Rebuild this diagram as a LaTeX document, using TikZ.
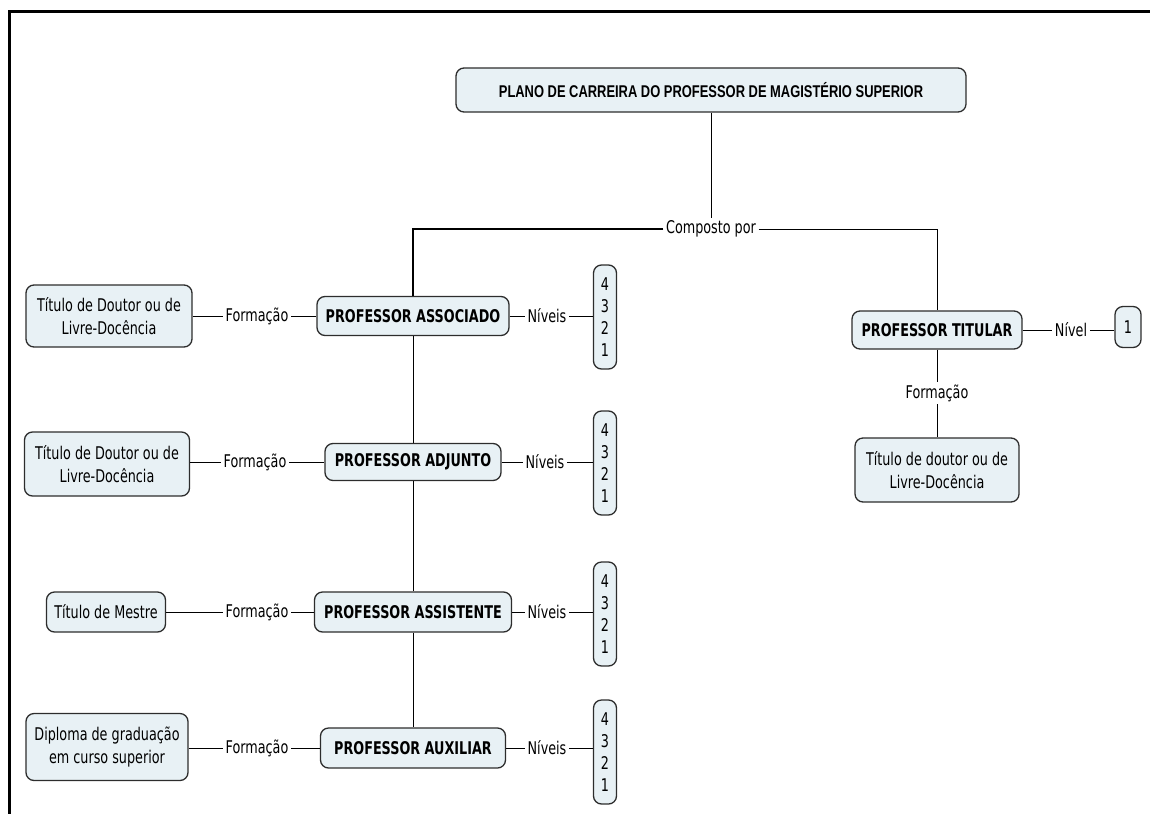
\documentclass[tikz,border=0pt]{standalone}
\usepackage{fontspec}
\setmainfont{DejaVu Sans}[FakeStretch=0.73]
\newfontfamily\titlefont{Liberation Sans}[FakeStretch=0.76]
\definecolor{boxfill}{RGB}{232,241,245}
\definecolor{boxdraw}{RGB}{45,45,45}
\begin{document}
\begin{tikzpicture}[x=1pt,y=-1pt,
  box/.style={draw=boxdraw, line width=1.3pt, fill=boxfill, rounded corners=8pt,
              inner sep=0pt, align=center, font=\fontsize{17.5}{23}\selectfont},
  boxb/.style={box, font=\fontsize{17.5}{23}\selectfont\bfseries},
  lvbox/.style={box, minimum width=23, minimum height=104, font=\fontsize{17.5}{22}\selectfont},
  lbl/.style={inner sep=2.5pt, font=\fontsize{17.5}{20}\selectfont},
  conn/.style={line width=1pt, draw=black},
  thickconn/.style={line width=2pt, draw=black}
]
\useasboundingbox (0,0) rectangle (1150,814);
% frame
\draw[line width=3pt] (1150,11) -- (9,11) -- (9,814);

% title
\node[box, minimum width=510, minimum height=44,
      font=\titlefont\fontsize{17}{19}\selectfont\bfseries] (title) at (711,90)
      {PLANO DE CARREIRA DO PROFESSOR DE MAGISTÉRIO SUPERIOR};
\node[lbl] (comp) at (711,229) {Composto por};

% titular branch
\node[boxb, minimum width=170, minimum height=38] (tit) at (937,330) {PROFESSOR TITULAR};
\node[lbl] (nivel) at (1071,330) {Nível};
\node[box, minimum width=26, minimum height=41] (lvt) at (1128,327) {1};
\node[lbl] (ftit) at (937,393) {Formação};
\node[box, minimum width=164, minimum height=64] (dtit) at (937,470)
      {Título de doutor ou de\\Livre-Docência};

% left column
\node[boxb, minimum width=192, minimum height=39] (assoc) at (413,316) {PROFESSOR ASSOCIADO};
\node[boxb, minimum width=176, minimum height=37] (adj)   at (413,462) {PROFESSOR ADJUNTO};
\node[boxb, minimum width=197, minimum height=40] (assist) at (413,612) {PROFESSOR ASSISTENTE};
\node[boxb, minimum width=185, minimum height=40] (aux)   at (413,748) {PROFESSOR AUXILIAR};

\node[box, minimum width=166, minimum height=62] (t1) at (109,316) {Título de Doutor ou de\\Livre-Docência};
\node[box, minimum width=165, minimum height=64] (t2) at (107,464) {Título de Doutor ou de\\Livre-Docência};
\node[box, minimum width=119, minimum height=40] (t3) at (106,612) {Título de Mestre};
\node[box, minimum width=162, minimum height=67] (t4) at (107,747) {Diploma de graduação\\em curso superior};

\node[lbl] (f1) at (257,316) {Formação};
\node[lbl] (f2) at (255,462) {Formação};
\node[lbl] (f3) at (257,612) {Formação};
\node[lbl] (f4) at (257,748) {Formação};

\node[lbl] (n1) at (547,316) {Níveis};
\node[lbl] (n2) at (545,462) {Níveis};
\node[lbl] (n3) at (547,612) {Níveis};
\node[lbl] (n4) at (547,748) {Níveis};

\node[lvbox] (lv1) at (605,317) {4\\3\\2\\1};
\node[lvbox] (lv2) at (605,463) {4\\3\\2\\1};
\node[lvbox] (lv3) at (605,614) {4\\3\\2\\1};
\node[lvbox] (lv4) at (605,752) {4\\3\\2\\1};

% connectors
\draw[conn] (title.south) -- (comp.north);
\draw[thickconn] (comp.west) -| (assoc.north);
\draw[conn] (comp.east) -| (tit.north);
\draw[conn] (tit.east |- nivel.west) -- (nivel.west);
\draw[conn] (nivel.east) -- (nivel.east -| lvt.west);
\draw[conn] (tit.south) -- (ftit.north);
\draw[conn] (ftit.south) -- (dtit.north);

\draw[conn] (assoc.south) -- (adj.north);
\draw[conn] (adj.south) -- (assist.north);
\draw[conn] (assist.south) -- (aux.north);

\foreach \t/\f/\p/\n/\l in {t1/f1/assoc/n1/lv1, t2/f2/adj/n2/lv2, t3/f3/assist/n3/lv3, t4/f4/aux/n4/lv4}{
  \draw[conn] (\f.west -| \t.east) -- (\f.west);
  \draw[conn] (\f.east) -- (\f.east -| \p.west);
  \draw[conn] (\n.west -| \p.east) -- (\n.west);
  \draw[conn] (\n.east) -- (\n.east -| \l.west);
}
\end{tikzpicture}
\end{document}
